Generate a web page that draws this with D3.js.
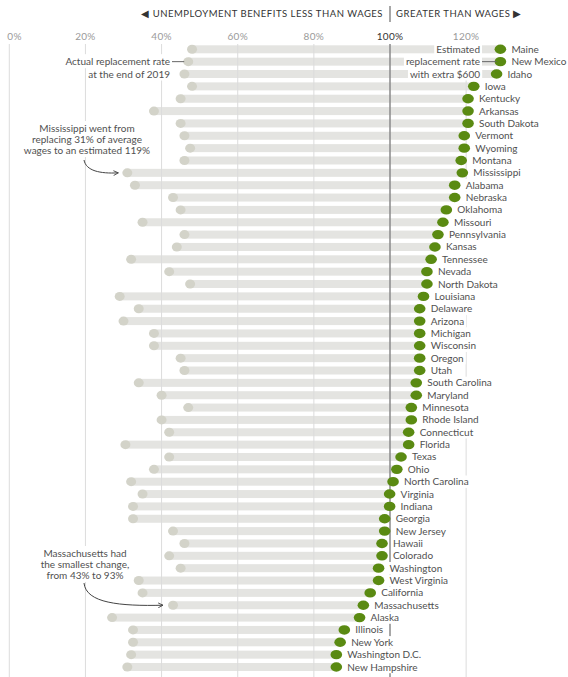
<!DOCTYPE html>
<html>
<head>
<meta charset="utf-8">
<script src="https://cdn.jsdelivr.net/npm/d3@7"></script>
<style>
  body { margin: 0; background: #fff; }
  svg { display: block; font-family: Lato, "Open Sans", sans-serif; }
</style>
</head>
<body>
<svg id="chart" width="568" height="677"></svg>
<script>
// states, top to bottom
var states = ["Maine", "New Mexico", "Idaho", "Iowa", "Kentucky", "Arkansas", "South Dakota", "Vermont",
  "Wyoming", "Montana", "Mississippi", "Alabama", "Nebraska", "Oklahoma", "Missouri", "Pennsylvania",
  "Kansas", "Tennessee", "Nevada", "North Dakota", "Louisiana", "Delaware", "Arizona", "Michigan",
  "Wisconsin", "Oregon", "Utah", "South Carolina", "Maryland", "Minnesota", "Rhode Island", "Connecticut",
  "Florida", "Texas", "Ohio", "North Carolina", "Virginia", "Indiana", "Georgia", "New Jersey", "Hawaii",
  "Colorado", "Washington", "West Virginia", "California", "Massachusetts", "Alaska", "Illinois",
  "New York", "Washington D.C.", "New Hampshire"];

// actual replacement rate at end of 2019 (%)
var rate2019 = [48, 47, 46, 48, 45, 38, 45, 46, 47.5, 46, 31, 33, 43, 45, 35, 46, 44, 32, 42, 47.5,
  29, 34, 30, 38, 38, 45, 46, 34, 40, 47, 40, 42, 30.5, 42, 38, 32, 35, 32.5, 32.5, 43, 46, 42, 45,
  34, 35, 43, 27, 32.5, 32.5, 32, 31];

// estimated replacement rate with extra $600 (%)
var rateExtra = [129, 129, 128, 122, 120.5, 120.5, 120.5, 119.5, 119.5, 118.7, 119, 117, 117, 114.8,
  113.9, 112.6, 111.8, 110.8, 109.7, 109.7, 108.8, 107.8, 107.8, 107.8, 107.8, 107.8, 107.8, 106.9,
  106.9, 105.6, 105.6, 104.9, 104.9, 102.9, 101.8, 100.8, 99.9, 99.9, 98.6, 98.6, 97.9, 97.9, 97,
  97, 94.8, 93, 92, 88, 86.9, 85.9, 85.9];

var tickValues = [0, 20, 40, 60, 80, 100, 120];

var svg = d3.select("#chart");
var x = d3.scaleLinear().domain([0, 100]).range([9.3, 390]);
var y = d3.scalePoint().domain(states).range([49.3, 667]);
var gridTop = 44, gridBottom = 677;
var barH = 8;
var green = "#5a8a12";
var textColor = "#505050";

var rows = states.map(function (s, i) {
  return { name: s, from: rate2019[i], to: rateExtra[i] };
});

// bars
svg.append("g").selectAll("rect")
  .data(rows)
  .enter()
  .append("rect")
  .attr("x", d => x(d.from))
  .attr("y", d => y(d.name) - barH / 2)
  .attr("width", d => x(d.to) - x(d.from))
  .attr("height", barH)
  .attr("fill", "#e4e4e1");

// grid
svg.append("g").selectAll("line")
  .data(tickValues.filter(d => d != 100))
  .enter()
  .append("line")
  .attr("x1", d => x(d)).attr("x2", d => x(d))
  .attr("y1", gridTop).attr("y2", gridBottom)
  .attr("stroke", "#dcdcdc")
  .attr("stroke-width", 1);

svg.append("g").selectAll("text")
  .data(tickValues)
  .enter()
  .append("text")
  .attr("x", d => d == 0 ? x(d) - 2 : x(d))
  .attr("y", 40)
  .attr("text-anchor", d => d == 0 ? "start" : "middle")
  .attr("font-size", "10px")
  .attr("letter-spacing", "0.3px")
  .attr("fill", d => d == 100 ? "#333" : "#9a9a9a")
  .text(d => d + "%");

// 100% line
svg.append("line")
  .attr("x1", x(100)).attr("x2", x(100))
  .attr("y1", gridTop).attr("y2", gridBottom)
  .attr("stroke", "#8a8a8a").attr("stroke-width", 1.5);
svg.append("line")
  .attr("x1", x(100)).attr("x2", x(100))
  .attr("y1", 6).attr("y2", 22)
  .attr("stroke", "#8a8a8a").attr("stroke-width", 1.5);

// header
svg.append("text")
  .attr("x", x(100) - 7).attr("y", 17)
  .attr("text-anchor", "end")
  .attr("font-size", "9.5px")
  .attr("letter-spacing", "0.5px")
  .attr("fill", "#333")
  .text("\u25C0 UNEMPLOYMENT BENEFITS LESS THAN WAGES");
svg.append("text")
  .attr("x", x(100) + 6).attr("y", 17)
  .attr("font-size", "9.5px")
  .attr("letter-spacing", "0.5px")
  .attr("fill", "#333")
  .text("GREATER THAN WAGES \u25B6");

// dots
svg.append("g").selectAll("ellipse")
  .data(rows)
  .enter()
  .append("ellipse")
  .attr("cx", d => x(d.from))
  .attr("cy", d => y(d.name))
  .attr("rx", 5).attr("ry", 4.5)
  .attr("fill", "#d3d3c9");

svg.append("g").selectAll("ellipse")
  .data(rows)
  .enter()
  .append("ellipse")
  .attr("cx", d => x(d.to))
  .attr("cy", d => y(d.name))
  .attr("rx", 5.8).attr("ry", 4.7)
  .attr("fill", green);

// state labels with white background
var labels = svg.append("g").selectAll("g")
  .data(rows)
  .enter()
  .append("g")
  .attr("transform", d => "translate(" + (x(d.to) + 11) + "," + y(d.name) + ")");
labels.append("rect").attr("class", "bg");
labels.append("text")
  .attr("y", 3.5)
  .attr("font-size", "10px")
  .attr("fill", textColor)
  .text(d => d.name);
labels.each(function () {
  var g = d3.select(this);
  var w = g.select("text").node().getComputedTextLength();
  g.select("rect").attr("x", -2).attr("y", -6.2).attr("width", w + 4).attr("height", 12.4).attr("fill", "#fff");
});

// annotations
function note(lines, ax, ay, anchor, lh) {
  var g = svg.append("g");
  lines.forEach(function (t, i) {
    var txt = g.append("text")
      .attr("x", ax).attr("y", ay + i * lh)
      .attr("text-anchor", anchor)
      .attr("font-size", "10px")
      .attr("fill", textColor)
      .text(t);
    var b = txt.node().getBBox();
    g.insert("rect", "text")
      .attr("x", b.x - 2).attr("y", b.y - 1)
      .attr("width", b.width + 4).attr("height", b.height + 2)
      .attr("fill", "#fff");
  });
  return g;
}

note(["Actual replacement rate", "at the end of 2019"], 170, y("New Mexico") + 3.5, "end", 12.35);
svg.append("line")
  .attr("x1", 172).attr("x2", x(rate2019[1]) - 4)
  .attr("y1", y("New Mexico")).attr("y2", y("New Mexico"))
  .attr("stroke", "#666");

note(["Estimated", "replacement rate", "with extra $600"], 480, y("Maine") + 3.5, "end", 12.35);
svg.append("line")
  .attr("x1", 482).attr("x2", x(rateExtra[1]) - 4)
  .attr("y1", y("New Mexico")).attr("y2", y("New Mexico"))
  .attr("stroke", "#666");

note(["Mississippi went from", "replacing 31% of average", "wages to an estimated 119%"], 87, 132, "middle", 11);
note(["Massachusetts had", "the smallest change,", "from 43% to 93%"], 85, 557, "middle", 11);

svg.append("defs").append("marker")
  .attr("id", "arrow")
  .attr("viewBox", "0 0 10 10")
  .attr("refX", 9).attr("refY", 5)
  .attr("markerWidth", 6).attr("markerHeight", 6)
  .attr("orient", "auto")
  .append("path")
  .attr("d", "M1,1 L9,5 L1,9")
  .attr("fill", "none")
  .attr("stroke", "#444")
  .attr("stroke-width", 1.5);

var my = y("Mississippi");
svg.append("path")
  .attr("d", "M84," + 160 + " C86," + (my - 2) + " 100," + (my + 1) + " " + (x(rate2019[10]) - 9) + "," + my)
  .attr("fill", "none").attr("stroke", "#444").attr("stroke-width", 1)
  .attr("marker-end", "url(#arrow)");

var ma = y("Massachusetts");
svg.append("path")
  .attr("d", "M84,583 C86," + (ma - 2) + " 120," + (ma + 1) + " " + (x(rate2019[45]) - 10) + "," + ma)
  .attr("fill", "none").attr("stroke", "#444").attr("stroke-width", 1)
  .attr("marker-end", "url(#arrow)");
</script>
</body>
</html>
